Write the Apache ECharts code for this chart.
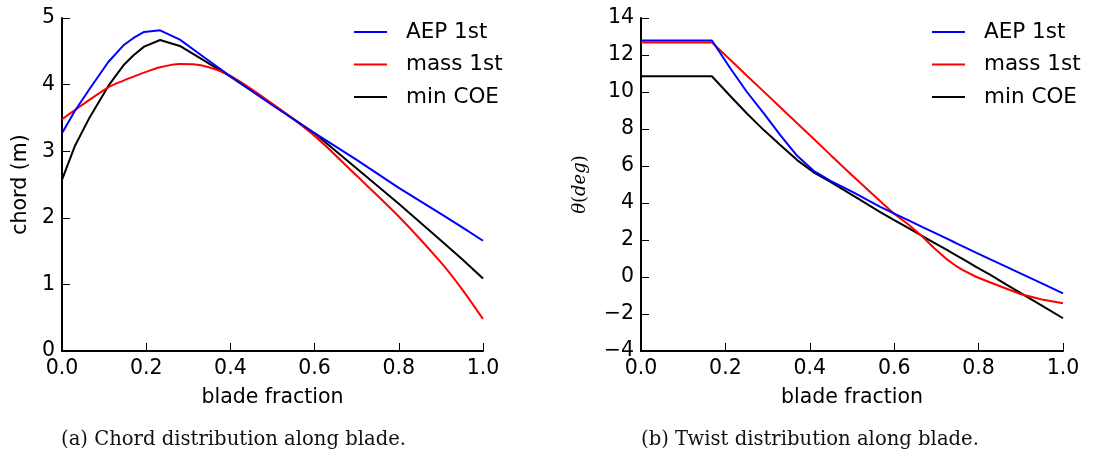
<!DOCTYPE html>
<html>
<head>
<meta charset="utf-8">
<script src="https://cdn.jsdelivr.net/npm/echarts@6/dist/echarts.min.js"></script>
<style>
  html, body { margin: 0; padding: 0; background: #fff; }
  #chart { width: 1093px; height: 451px; }
</style>
</head>
<body>
<div id="chart"></div>
<script>
  // chord distribution (left panel)
  var chordX = [0, 0.03, 0.065, 0.11, 0.146, 0.17, 0.195, 0.233, 0.28, 0.33, 0.4, 0.5, 0.6, 0.7, 0.8, 0.9, 0.95, 1.0];
  var chordAEP = [3.27, 3.6, 3.93, 4.34, 4.59, 4.70, 4.79, 4.815, 4.675, 4.445, 4.125, 3.69, 3.27, 2.87, 2.45, 2.06, 1.86, 1.655];
  var chordMass = [3.48, 3.615, 3.77, 3.96, 4.06, 4.12, 4.18, 4.26, 4.31, 4.29, 4.13, 3.71, 3.23, 2.63, 2.02, 1.33, 0.93, 0.48];
  var chordCOE = [2.57, 3.07, 3.5, 3.98, 4.29, 4.44, 4.57, 4.67, 4.58, 4.39, 4.12, 3.70, 3.27, 2.74, 2.21, 1.66, 1.38, 1.09];

  // twist distribution (right panel)
  var twistX = [0, 0.168, 0.212, 0.251, 0.291, 0.330, 0.370, 0.409, 0.449, 0.50, 0.567, 0.599, 0.633, 0.666, 0.695, 0.725, 0.745, 0.764, 0.795, 0.828, 0.865, 0.899, 0.95, 1.0];
  var twistAEP = [12.78, 12.78, 11.27, 10.0, 8.84, 7.67, 6.55, 5.74, 5.2, 4.62, 3.79, 3.44, 3.07, 2.71, 2.40, 2.07, 1.85, 1.64, 1.30, 0.95, 0.56, 0.2, -0.34, -0.88];
  var twistMass = [12.68, 12.68, 11.73, 10.88, 10.02, 9.18, 8.31, 7.47, 6.6, 5.5, 4.1, 3.43, 2.85, 2.2, 1.55, 0.95, 0.62, 0.36, 0.0, -0.3, -0.62, -0.92, -1.22, -1.42];
  var twistCOE = [10.85, 10.85, 9.77, 8.84, 7.94, 7.13, 6.32, 5.66, 5.14, 4.44, 3.51, 3.09, 2.65, 2.22, 1.85, 1.46, 1.2, 0.95, 0.54, 0.11, -0.4, -0.86, -1.55, -2.23];

  var names = ['AEP 1st', 'mass 1st', 'min COE'];
  var colors = ['#0000ff', '#ff0000', '#000000'];
  var captions = ['(a) Chord distribution along blade.', '(b) Twist distribution along blade.'];

  function pairs (xs, ys) {
    var out = [];
    for (var i = 0; i < xs.length; i++) {
      out.push([xs[i], ys[i]]);
    }
    return out;
  }

  function minusFmt (v) {
    return v < 0 ? '\u2212' + Math.abs(v) : String(v);
  }

  var font = 'DejaVu Sans';

  function xAxisOpt (gridIndex) {
    return {
      gridIndex: gridIndex,
      type: 'value',
      min: 0,
      max: 1,
      interval: 0.2,
      name: 'blade fraction',
      nameLocation: 'middle',
      nameGap: 36,
      nameTextStyle: { color: '#000', fontFamily: font, fontSize: 20.5 },
      axisLine: { show: true, onZero: false, lineStyle: { color: '#000', width: 2 } },
      axisTick: { show: true, inside: true, length: 8, lineStyle: { color: '#000', width: 1 } },
      axisLabel: {
        color: '#000', fontFamily: font, fontSize: 20.5, margin: 7,
        formatter: function (v) { return v.toFixed(1); }
      },
      splitLine: { show: false }
    };
  }

  function yAxisOpt (gridIndex, min, max, interval) {
    return {
      gridIndex: gridIndex,
      type: 'value',
      min: min,
      max: max,
      interval: interval,
      nameLocation: 'middle',
      axisLine: { show: true, onZero: false, lineStyle: { color: '#000', width: 2 } },
      axisTick: { show: true, inside: true, length: 8, lineStyle: { color: '#000', width: 1 } },
      axisLabel: { color: '#000', fontFamily: font, fontSize: 20.5, margin: 7, formatter: minusFmt },
      splitLine: { show: false }
    };
  }

  var yLeft = yAxisOpt(0, 0, 5, 1);
  yLeft.name = 'chord (m)';
  yLeft.nameGap = 31;
  yLeft.nameTextStyle = { color: '#000', fontFamily: font, fontSize: 20.5 };

  var yRight = yAxisOpt(1, -4, 14, 2);
  yRight.name = '{i|\u03b8}{r|(}{i|deg}{r|)}';
  yRight.nameGap = 52;
  yRight.nameTextStyle = {
    rich: {
      i: { fontFamily: 'DejaVu Serif', fontStyle: 'italic', fontSize: 18, color: '#000' },
      r: { fontFamily: 'DejaVu Serif', fontSize: 18, color: '#000' }
    }
  };

  var seriesData = [
    [chordAEP, chordMass, chordCOE],
    [twistAEP, twistMass, twistCOE]
  ];
  var xData = [chordX, twistX];

  var series = [];
  for (var g = 0; g < 2; g++) {
    for (var s = 0; s < 3; s++) {
      series.push({
        name: names[s],
        type: 'line',
        xAxisIndex: g,
        yAxisIndex: g,
        data: pairs(xData[g], seriesData[g][s]),
        symbol: 'none',
        smooth: (g === 0 && s === 1) ? 0.3 : false,
        lineStyle: { color: colors[s], width: 2 },
        itemStyle: { color: colors[s] },
        z: 3 - s
      });
    }
  }

  function legendOpt (left) {
    return {
      data: names,
      left: left,
      top: 16,
      orient: 'vertical',
      icon: 'rect',
      itemWidth: 33,
      itemHeight: 2,
      itemGap: 10.5,
      selectedMode: false,
      textStyle: { color: '#000', fontFamily: font, fontSize: 21.5, lineHeight: 22, padding: [0, 0, 0, 14] }
    };
  }

  var chart = echarts.init(document.getElementById('chart'), null, { renderer: 'canvas' });
  chart.setOption({
    animation: false,
    backgroundColor: '#fff',
    color: colors,
    title: [
      {
        text: captions[0], left: 56, top: 425,
        textStyle: { fontFamily: 'DejaVu Serif', fontWeight: 'normal', fontSize: 19.6, color: '#111' }
      },
      {
        text: captions[1], left: 636, top: 425,
        textStyle: { fontFamily: 'DejaVu Serif', fontWeight: 'normal', fontSize: 19.6, color: '#111' }
      }
    ],
    legend: [legendOpt(349), legendOpt(927)],
    grid: [
      { left: 62, top: 18, width: 421, height: 333 },
      { left: 641, top: 18, width: 422, height: 333 }
    ],
    xAxis: [xAxisOpt(0), xAxisOpt(1)],
    yAxis: [yLeft, yRight],
    series: series
  });
</script>
</body>
</html>
